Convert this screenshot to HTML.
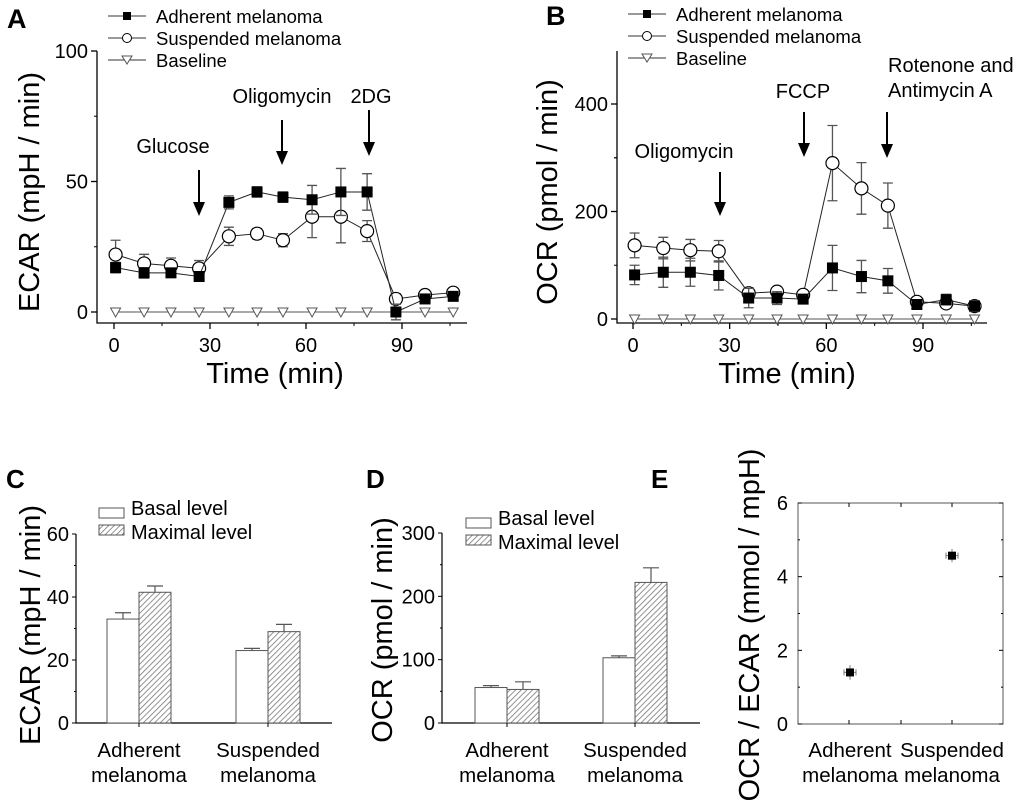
<!DOCTYPE html>
<html><head><meta charset="utf-8"><style>
body{margin:0;background:#fff;}
svg{display:block;font-family:"Liberation Sans",Arial,sans-serif;}
</style></head><body>
<svg id="fig" width="1020" height="804" viewBox="0 0 1020 804">
<defs>
<pattern id="hatch" patternUnits="userSpaceOnUse" width="4" height="4" patternTransform="rotate(45)">
<rect width="4" height="4" fill="#fff"/><line x1="0" y1="0" x2="0" y2="4" stroke="#777" stroke-width="1.6"/>
</pattern>
</defs>
<g id="root"></g>
</svg>
<script>
// ---- Panel A / B data ----
const times = [0.5, 9.4, 17.8, 26.6, 35.9, 44.7, 52.8, 61.9, 70.9, 79.1, 88.1, 97.2, 106];
const ecarAdh = [17, 15, 15, 13.6, 42, 46, 44, 43, 46, 46, 0, 5, 6];
const ecarAdhErr = [2, 2, 1.5, 1.5, 2.5, 2, 2, 5.5, 9, 7, 3, 1.5, 1.5];
const ecarSus = [22, 18.6, 17.7, 16.7, 29, 30, 27.5, 36.5, 36.5, 31, 5, 6.5, 7.4];
const ecarSusErr = [5.5, 3.5, 3, 3, 3.5, 2, 2.5, 8, 10, 4, 2, 1.5, 1.5];
const ecarBase = [0, 0, 0, 0, 0, 0, 0, 0, 0, 0, 0, 0, 0];
const ocrAdh = [82, 87, 87, 81, 39, 39, 37, 95, 79, 71, 27, 36, 24];
const ocrAdhErr = [18, 28, 26, 27, 18, 12, 6, 42, 30, 23, 8, 10, 10];
const ocrSus = [137, 132, 128, 126, 48, 51, 45, 290, 243, 211, 32, 29, 24];
const ocrSusErr = [23, 20, 20, 20, 10, 8, 6, 70, 48, 42, 8, 8, 10];
const ocrBase = [0, 0, 0, 0, 0, 0, 0, 0, 0, 0, 0, 0, 0];
const timeTicks = [0, 30, 60, 90];
const ecarTicks = [0, 50, 100];
const ocrTicks = [0, 200, 400];
// ---- Panel C / D / E data ----
const groups = ["Adherent", "Suspended"];
const cBasal = [33, 23];
const cBasalErr = [2, 0.7];
const cMax = [41.5, 29];
const cMaxErr = [2, 2.3];
const cTicks = [0, 20, 40, 60];
const dBasal = [56, 103];
const dBasalErr = [3, 3];
const dMax = [53, 222];
const dMaxErr = [12, 23];
const dTicks = [0, 100, 200, 300];
const eRatio = [1.4, 4.57];
const eErr = [0.2, 0.18];
const eTicks = [0, 2, 4, 6];

const NS = "http://www.w3.org/2000/svg";
const root = document.getElementById("root");
function mk(tag, attrs, parent, text) {
  const e = document.createElementNS(NS, tag);
  for (const k in attrs) e.setAttribute(k, attrs[k]);
  if (text !== undefined) e.textContent = text;
  (parent || root).appendChild(e);
  return e;
}
function lin(d0, d1, r0, r1) { return v => r0 + (v - d0) * (r1 - r0) / (d1 - d0); }

function txt(x, y, s, size, anchor, parent, name, extra) {
  const t = mk("text", Object.assign({x: x, y: y, "font-size": size, "text-anchor": anchor || "middle", fill: "#000"}, extra || {}), parent, s);
  
  
  return t;
}

function marker(g, type, x, y) {
  let m;
  if (type === "sq") m = mk("rect", {x: x - 5.5, y: y - 5.5, width: 11, height: 11, fill: "#000"}, g);
  else if (type === "circ") m = mk("circle", {cx: x, cy: y, r: 6.5, fill: "#fff", stroke: "#000", "stroke-width": 1.2}, g);
  else m = mk("path", {d: `M${x-5},${y-4} L${x+5},${y-4} L${x},${y+5}z`, fill: "#fff", stroke: "#555", "stroke-width": 1}, g);
  
  
}

function series(g, xs, ys, errs, X, Y, type, name) {
  const sg = mk("g", {}, g);
  
  
  let d = "";
  xs.forEach((t, i) => { d += (i ? "L" : "M") + X(t) + "," + Y(ys[i]); });
  mk("path", {d: d, fill: "none", stroke: type === "tri" ? "#555" : "#222", "stroke-width": 1}, sg);
  if (errs) xs.forEach((t, i) => {
    const x = X(t), y1 = Y(ys[i] + errs[i]), y2 = Y(ys[i] - errs[i]);
    const eb = mk("path", {d: `M${x},${y1}V${y2}M${x-5},${y1}H${x+5}M${x-5},${y2}H${x+5}`, stroke: "#555", "stroke-width": 1.3, fill: "none"}, sg);
    
    
  });
  xs.forEach((t, i) => marker(sg, type, X(t), Y(ys[i])));
}

function timePanel(cfg) {
  const g = mk("g", {}, root);
  
  
  const X = lin(0, 90, cfg.x0, cfg.x90), Y = lin(0, cfg.ymax, cfg.y0, cfg.ytop);
  const ax = cfg.axisX, ab = cfg.axisB;
  const axes = mk("path", {d: `M${ax},${cfg.axisTop}V${ab}H${cfg.axisR}`, stroke: "#000", "stroke-width": 1.3, fill: "none"}, g);
  
  
  cfg.yticks.forEach(v => {
    mk("line", {x1: ax - 6, x2: ax, y1: Y(v), y2: Y(v), stroke: "#000", "stroke-width": 1.3}, g);
    txt(ax - 9, Y(v) + 7, String(v), 20, "end", g, "y-tick-label");
  });
  for (let i = 0; i < cfg.yticks.length - 1; i++) {
    const v = (cfg.yticks[i] + cfg.yticks[i + 1]) / 2;
    mk("line", {x1: ax - 3, x2: ax, y1: Y(v), y2: Y(v), stroke: "#000", "stroke-width": 1}, g);
  }
  if (cfg.minorTop) mk("line", {x1: ax - 3, x2: ax, y1: Y(cfg.minorTop), y2: Y(cfg.minorTop), stroke: "#000", "stroke-width": 1}, g);
  timeTicks.forEach(v => {
    mk("line", {x1: X(v), x2: X(v), y1: ab, y2: ab + 6, stroke: "#000", "stroke-width": 1.3}, g);
    txt(X(v), ab + 29, String(v), 20, "middle", g, "x-tick-label");
    mk("line", {x1: X(v + 15), x2: X(v + 15), y1: ab, y2: ab + 3, stroke: "#000", "stroke-width": 1}, g);
  });
  txt(cfg.xTitleX, 383, "Time (min)", 29, "middle", g, "x-axis-title");
  txt(0, 0, cfg.ytitle, 29, "middle", g, "y-axis-title", {transform: `translate(${cfg.yTitleX},${cfg.yTitleY}) rotate(-90)`});
  series(g, times, cfg.base, null, X, Y, "tri", "baseline-series");
  series(g, times, cfg.sus, cfg.susErr, X, Y, "circ", "suspended-series");
  series(g, times, cfg.adh, cfg.adhErr, X, Y, "sq", "adherent-series");
  const lg = mk("g", {}, g);
  
  
  [["sq", "Adherent melanoma"], ["circ", "Suspended melanoma"], ["tri", "Baseline"]].forEach((e, i) => {
    const y = cfg.legY + i * 22;
    mk("line", {x1: cfg.legX, x2: cfg.legX + 38, y1: y, y2: y, stroke: "#333", "stroke-width": 1}, lg);
    if (e[0] === "sq") mk("rect", {x: cfg.legX + 15, y: y - 4, width: 8, height: 8, fill: "#000"}, lg);
    else if (e[0] === "circ") mk("circle", {cx: cfg.legX + 19, cy: y, r: 4.5, fill: "#fff", stroke: "#000"}, lg);
    else mk("path", {d: `M${cfg.legX+14},${y-4} L${cfg.legX+24},${y-4} L${cfg.legX+19},${y+4}z`, fill: "#fff", stroke: "#555"}, lg);
    txt(cfg.legX + 48, y + 7, e[1], 18.5, "start", lg, "legend-entry");
  });
  cfg.ann.forEach(a => {
    a.lines.forEach((s, i) => txt(a.tx, a.ty + i * 25, s, 20, a.anchor || "middle", g, "treatment-label"));
    const ar = mk("g", {}, g);
    
    
    mk("line", {x1: a.ax, x2: a.ax, y1: a.a1, y2: a.a2 - 10, stroke: "#000", "stroke-width": 2}, ar);
    mk("path", {d: `M${a.ax-6},${a.a2-14} L${a.ax+6},${a.a2-14} L${a.ax},${a.a2}z`, fill: "#000"}, ar);
  });
  txt(cfg.letterX, cfg.letterY, cfg.letter, 27, "start", g, "panel-letter", {"font-weight": "bold"});
}

timePanel({name: "panel-a-ecar-time", letter: "A", letterX: 7, letterY: 28,
  x0: 114, x90: 402, y0: 312, ytop: 51, ymax: 100, axisTop: 51, axisX: 97, axisB: 323, axisR: 467,
  yticks: ecarTicks, ytitle: "ECAR (mpH / min)", yTitleX: 39, yTitleY: 192, xTitleX: 275,
  adh: ecarAdh, adhErr: ecarAdhErr, sus: ecarSus, susErr: ecarSusErr, base: ecarBase,
  legX: 108, legY: 16,
  ann: [{lines: ["Glucose"], tx: 173, ty: 153, ax: 199, a1: 170, a2: 216},
        {lines: ["Oligomycin"], tx: 282, ty: 103, ax: 282, a1: 120, a2: 165},
        {lines: ["2DG"], tx: 371, ty: 103, ax: 369, a1: 110, a2: 156}]});

timePanel({name: "panel-b-ocr-time", letter: "B", letterX: 546, letterY: 25,
  x0: 633, x90: 923, y0: 319, ytop: 104, ymax: 400, axisTop: 51, axisX: 617, axisB: 323, axisR: 987,
  yticks: ocrTicks, minorTop: 300, ytitle: "OCR (pmol / min)", yTitleX: 557, yTitleY: 192, xTitleX: 787,
  adh: ocrAdh, adhErr: ocrAdhErr, sus: ocrSus, susErr: ocrSusErr, base: ocrBase,
  legX: 628, legY: 14,
  ann: [{lines: ["Oligomycin"], tx: 684, ty: 158, ax: 720, a1: 172, a2: 216},
        {lines: ["FCCP"], tx: 803, ty: 98, ax: 804, a1: 112, a2: 157},
        {lines: ["Rotenone and", "Antimycin A"], tx: 888, ty: 72, anchor: "start", ax: 887, a1: 112, a2: 158}]});

function barPanel(cfg) {
  const g = mk("g", {}, root);
  
  
  const Y = lin(0, cfg.ticks[cfg.ticks.length - 1], cfg.y0, cfg.ytop);
  const ax = cfg.axisX;
  const axes = mk("path", {d: `M${ax},${cfg.ytop}V${cfg.y0}H${cfg.axisR}`, stroke: "#000", "stroke-width": 1.2, fill: "none"}, g);
  
  
  cfg.ticks.forEach((v, i) => {
    mk("line", {x1: ax - 4, x2: ax, y1: Y(v), y2: Y(v), stroke: "#000"}, g);
    txt(ax - 7, Y(v) + 7, String(v), 20, "end", g, "y-tick-label");
    if (i < cfg.ticks.length - 1) { const m = (v + cfg.ticks[i + 1]) / 2; mk("line", {x1: ax - 2, x2: ax, y1: Y(m), y2: Y(m), stroke: "#000"}, g); }
  });
  groups.forEach((grp, i) => {
    const cx = cfg.centers[i], w = cfg.barW;
    [[cfg.basal, cfg.basalErr, cx - w, "#fff", "basal-bar"], [cfg.max, cfg.maxErr, cx, "url(#hatch)", "maximal-bar"]].forEach(b => {
      const v = b[0][i], e = b[1][i];
      const r = mk("rect", {x: b[2], y: Y(v), width: w, height: cfg.y0 - Y(v), fill: b[3], stroke: "#555", "stroke-width": 1}, g);
      
      
      const bx = b[2] + w / 2;
      mk("path", {d: `M${bx},${Y(v)}V${Y(v + e)}M${bx-8},${Y(v + e)}H${bx+8}`, stroke: "#555", "stroke-width": 1.2, fill: "none"}, g);
    });
    mk("line", {x1: cx, x2: cx, y1: cfg.y0, y2: cfg.y0 + 4, stroke: "#000"}, g);
    txt(cx, 757, grp, 20.5, "middle", g, "category-label");
    txt(cx, 782, "melanoma", 20.5, "middle", g, "category-label");
  });
  const lg = mk("g", {}, g);
  
  
  mk("rect", {x: cfg.legX, y: cfg.legY, width: 25, height: 10, fill: "#fff", stroke: "#555"}, lg);
  mk("rect", {x: cfg.legX, y: cfg.legY + 17, width: 25, height: 10, fill: "url(#hatch)", stroke: "#555"}, lg);
  txt(cfg.legX + 32, cfg.legY + 7, "Basal level", 20, "start", lg, "legend-entry");
  txt(cfg.legX + 32, cfg.legY + 31, "Maximal level", 20, "start", lg, "legend-entry");
  txt(0, 0, cfg.ytitle, 29, "middle", g, "y-axis-title", {transform: `translate(${cfg.yTitleX},${cfg.yTitleY}) rotate(-90)`});
  txt(cfg.letterX, 488, cfg.letter, 26, "start", g, "panel-letter", {"font-weight": "bold"});
}

barPanel({name: "panel-c-ecar-bars", letter: "C", letterX: 6, axisX: 76, axisR: 332, y0: 723, ytop: 534,
  ticks: cTicks, centers: [139, 268], barW: 32, basal: cBasal, basalErr: cBasalErr, max: cMax, maxErr: cMaxErr,
  legX: 99, legY: 508, ytitle: "ECAR (mpH / min)", yTitleX: 40, yTitleY: 625});
barPanel({name: "panel-d-ocr-bars", letter: "D", letterX: 366, axisX: 442, axisR: 700, y0: 723, ytop: 533,
  ticks: dTicks, centers: [507, 635], barW: 32, basal: dBasal, basalErr: dBasalErr, max: dMax, maxErr: dMaxErr,
  legX: 466, legY: 518, ytitle: "OCR (pmol / min)", yTitleX: 392, yTitleY: 630});

(function () {
  const g = mk("g", {}, root);
  
  
  const Y = lin(0, 6, 724, 503), xs = [850, 952];
  const fr = mk("rect", {x: 798, y: 503, width: 205, height: 221, fill: "none", stroke: "#555", "stroke-width": 1}, g);
  
  
  eTicks.forEach((v, i) => {
    mk("line", {x1: 798, x2: 802, y1: Y(v), y2: Y(v), stroke: "#000"}, g);
    mk("line", {x1: 999, x2: 1003, y1: Y(v), y2: Y(v), stroke: "#000"}, g);
    txt(788, Y(v) + 7, String(v), 20, "end", g, "y-tick-label");
    if (i < eTicks.length - 1) { const m = v + 1; mk("line", {x1: 798, x2: 800, y1: Y(m), y2: Y(m), stroke: "#000"}, g); mk("line", {x1: 1001, x2: 1003, y1: Y(m), y2: Y(m), stroke: "#000"}, g); }
  });
  [849, 901, 952].forEach(x => { mk("line", {x1: x, x2: x, y1: 720, y2: 724, stroke: "#000"}, g); mk("line", {x1: x, x2: x, y1: 503, y2: 507, stroke: "#000"}, g); });
  groups.forEach((grp, i) => {
    const x = xs[i], y = Y(eRatio[i]);
    mk("path", {d: `M${x},${Y(eRatio[i] + eErr[i])}V${Y(eRatio[i] - eErr[i])}M${x-6},${y}H${x+6}M${x-6},${y-3}V${y+3}M${x+6},${y-3}V${y+3}`, stroke: "#777", fill: "none"}, g);
    const p = mk("rect", {x: x - 4, y: y - 4, width: 8, height: 8, fill: "#000"}, g);
    
    
    txt(x, 757, grp, 20.5, "middle", g, "category-label");
    txt(x, 782, "melanoma", 20.5, "middle", g, "category-label");
  });
  txt(0, 0, "OCR / ECAR (mmol / mpH)", 29, "middle", g, "y-axis-title", {transform: "translate(759,625) rotate(-90)"});
  txt(651, 488, "E", 26, "start", g, "panel-letter", {"font-weight": "bold"});
})();
</script>
</body></html>
